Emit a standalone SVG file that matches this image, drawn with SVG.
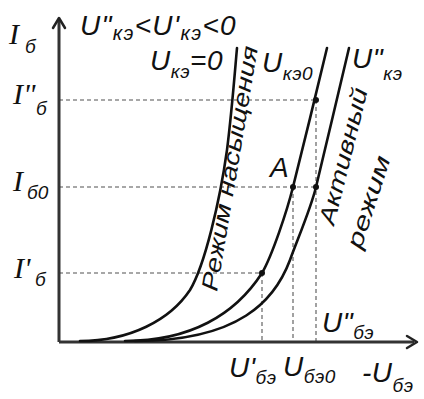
<svg xmlns="http://www.w3.org/2000/svg" width="424" height="399" viewBox="0 0 424 399">
<style>
text{font-family:"Liberation Sans",Arial,sans-serif;font-style:italic;fill:#111}
.m{font-size:28px;letter-spacing:0.5px}
.s{font-size:19px}
.I{font-family:"Liberation Serif","Times New Roman",serif;font-size:30px}
.rot{font-size:23px}
.axis{stroke:#333;stroke-width:3;fill:none}
.head{stroke:#222;stroke-width:2.5;fill:none;stroke-linecap:round;stroke-linejoin:round}
.dash{stroke:#8a8a8a;stroke-width:1.6;stroke-dasharray:4 3;fill:none}
.curve{stroke:#111;stroke-width:2.6;fill:none;stroke-linecap:round}
.dot{fill:#111}
</style>
<rect width="424" height="399" fill="#fff"/>
<g id="guides">
<path class="dash" d="M59,100H316M59,187H316M59,273H262"/>
<path class="dash" d="M262,273V341M293,187V341M316,100V341"/>
</g>
<g id="axes">
<path class="axis" d="M59,342V20M59,342H414"/>
<path class="head" d="M53,28L59,18L65,28"/>
<path class="head" d="M407,336L417,342L407,348"/>
</g>
<g id="connectors">
<path id="curve-uke-zero" class="curve" d="M80,341C130,341 170,320 190,290C205,265 220,200 227,150C232,110 235,70 237,48"/>
<path id="curve-uke0" class="curve" d="M125,341C190,341 235,315 262,273C272,256 287,211 293,187C299,163 322,70 327,48"/>
<path id="curve-uke2" class="curve" d="M135,341C240,341 275,300 290,260C298,238 311,208 316,187C321,166 344,70 349,48"/>
</g>
<g id="points">
<circle class="dot" cx="316" cy="100" r="3"/>
<circle class="dot" cx="293" cy="187" r="3"/>
<circle class="dot" cx="316" cy="187" r="3"/>
<circle class="dot" cx="262" cy="273" r="3"/>
</g>
<g id="label-ib">
<text class="I" x="9" y="44">I</text><text class="s" x="25" y="53">б</text>
</g>
<g id="label-top">
<text class="m" x="80" y="35" style="letter-spacing:1.3px">U"<tspan class="s" dy="5" style="font-size:20px">кэ</tspan><tspan dy="-5">&lt;U'</tspan><tspan class="s" dy="5" style="font-size:20px">кэ</tspan><tspan dy="-5">&lt;0</tspan></text>
</g>
<g id="label-uke-zero">
<text class="m" x="150" y="70">U<tspan class="s" dy="8">кэ</tspan><tspan dy="-8">=0</tspan></text>
</g>
<g id="label-uke0">
<text class="m" x="262" y="72">U<tspan class="s" dy="8">кэ0</tspan></text>
</g>
<g id="label-uke2">
<text class="m" x="352" y="68">U"<tspan class="s" dy="12">кэ</tspan></text>
</g>
<g id="label-ib2">
<text class="I" x="13" y="104">I"</text><text class="s" x="36" y="115">б</text>
</g>
<g id="label-ib0">
<text class="I" x="13" y="191">I</text><text class="s" x="27" y="199">б0</text>
</g>
<g id="label-ib1">
<text class="I" x="14" y="278">I'</text><text class="s" x="35" y="286">б</text>
</g>
<g id="label-a">
<text class="m" x="270" y="177">A</text>
</g>
<g id="label-ube2">
<text class="m" x="322" y="332">U"<tspan class="s" dy="7">бэ</tspan></text>
</g>
<g id="label-ube1">
<text class="m" x="229" y="377">U'<tspan class="s" dy="7">бэ</tspan></text>
</g>
<g id="label-ube0">
<text class="m" x="283" y="376">U<tspan class="s" dy="7">бэ0</tspan></text>
</g>
<g id="label-ube-axis">
<text class="m" x="362" y="382">-U<tspan class="s" dy="10">бэ</tspan></text>
</g>
<g id="label-saturation">
<text class="rot" transform="translate(217,292) rotate(-80.5)" textLength="248" lengthAdjust="spacingAndGlyphs">Режим насыщения</text>
</g>
<g id="label-active">
<text class="rot" transform="translate(334,226) rotate(-76)" textLength="140" lengthAdjust="spacingAndGlyphs">Активный</text>
<text class="rot" transform="translate(361,250) rotate(-72)" textLength="96" lengthAdjust="spacingAndGlyphs">режим</text>
</g>
</svg>
